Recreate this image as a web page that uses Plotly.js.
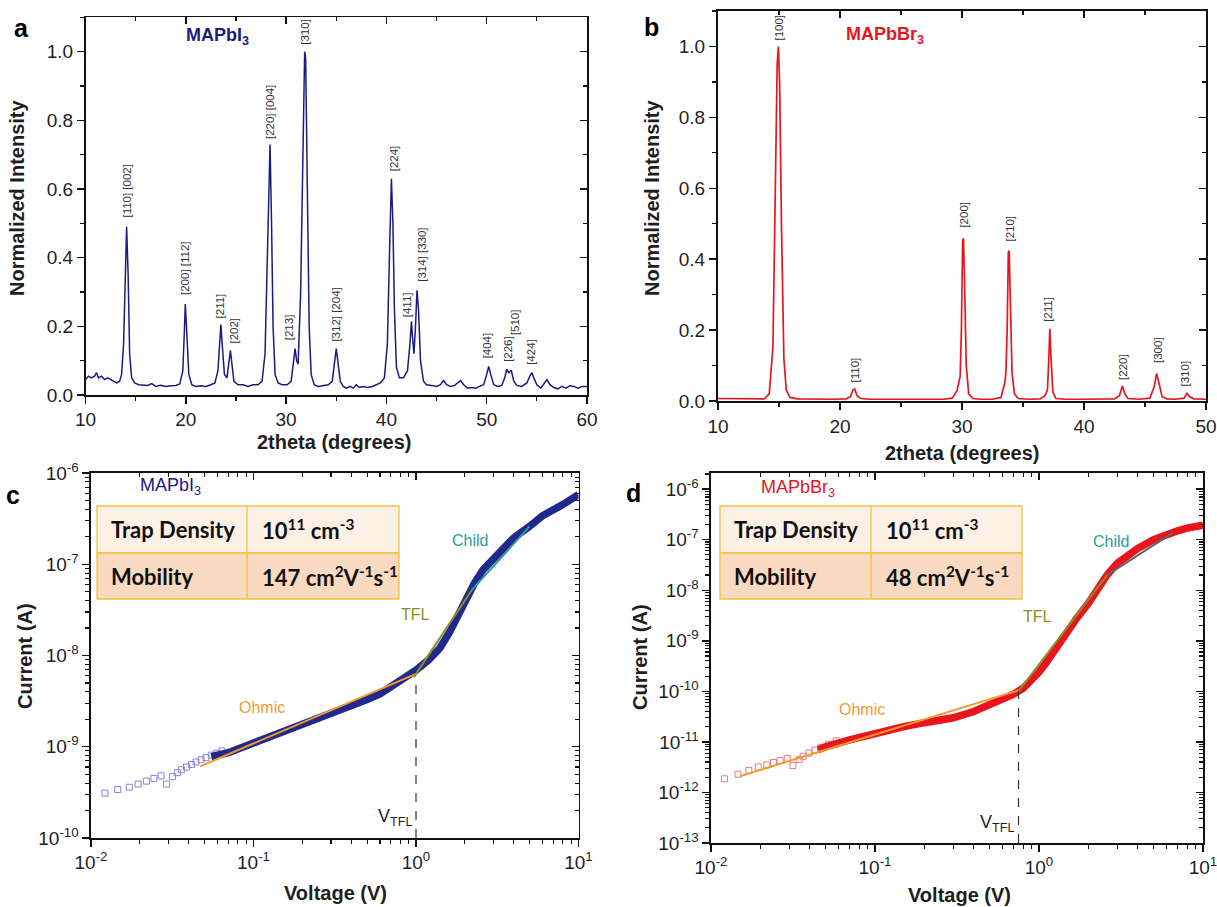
<!DOCTYPE html>
<html>
<head>
<meta charset="utf-8">
<script src="https://cdn.plot.ly/plotly-3.0.1.min.js"></script>
<style>
  html, body { margin: 0; padding: 0; background: #ffffff; }
  #chart { width: 1217px; height: 907px; }
</style>
</head>
<body>
<div id="chart"></div>
<script>
// ---------------- XRD: MAPbI3 ----------------
const iodideTheta = [10.0,10.3,10.6,10.9,11.1,11.3,11.6,11.9,12.2,12.5,12.8,13.1,13.4,13.6,13.8,13.95,14.1,14.25,14.4,14.6,14.9,15.3,15.7,16.2,16.6,17.0,17.5,18.0,18.5,19.0,19.4,19.7,19.85,19.95,20.1,20.3,20.6,21.0,21.5,22.0,22.5,22.9,23.2,23.4,23.5,23.65,23.85,24.1,24.3,24.45,24.6,24.8,25.2,25.7,26.2,26.7,27.2,27.6,27.9,28.1,28.25,28.4,28.55,28.7,28.9,29.2,29.6,30.1,30.5,30.75,30.9,31.05,31.2,31.45,31.7,31.85,31.95,32.1,32.3,32.5,32.8,33.2,33.7,34.2,34.6,34.85,35.0,35.15,35.4,35.7,36.0,36.4,36.7,37.0,37.3,37.7,38.1,38.6,39.0,39.4,39.8,40.1,40.3,40.5,40.65,40.8,41.0,41.3,41.7,42.1,42.35,42.5,42.6,42.75,42.9,43.05,43.2,43.4,43.7,44.0,44.5,45.0,45.4,45.7,46.0,46.4,46.8,47.1,47.4,47.7,48.1,48.5,48.9,49.3,49.7,50.0,50.2,50.4,50.7,51.1,51.5,51.8,52.0,52.2,52.45,52.7,53.0,53.5,54.0,54.3,54.5,54.7,55.0,55.4,55.8,56.0,56.3,56.7,57.1,57.5,57.9,58.3,58.7,59.1,59.5,60.0];
const iodideIntensity = [0.045,0.055,0.050,0.055,0.065,0.050,0.055,0.045,0.050,0.045,0.040,0.035,0.040,0.060,0.150,0.350,0.490,0.350,0.120,0.050,0.035,0.030,0.030,0.028,0.033,0.025,0.028,0.025,0.027,0.028,0.032,0.070,0.180,0.265,0.180,0.060,0.030,0.025,0.027,0.025,0.030,0.035,0.070,0.180,0.205,0.140,0.060,0.050,0.090,0.130,0.090,0.040,0.030,0.030,0.025,0.030,0.030,0.040,0.120,0.350,0.500,0.730,0.500,0.200,0.060,0.035,0.030,0.030,0.040,0.090,0.135,0.100,0.090,0.300,0.800,1.000,0.980,0.600,0.200,0.060,0.030,0.025,0.028,0.030,0.040,0.100,0.135,0.100,0.040,0.025,0.020,0.025,0.020,0.030,0.022,0.025,0.022,0.025,0.030,0.035,0.050,0.150,0.400,0.630,0.500,0.250,0.080,0.050,0.050,0.070,0.150,0.215,0.170,0.120,0.200,0.305,0.250,0.100,0.040,0.030,0.028,0.025,0.030,0.042,0.030,0.025,0.028,0.035,0.042,0.030,0.020,0.022,0.020,0.025,0.030,0.060,0.083,0.060,0.030,0.025,0.028,0.050,0.075,0.065,0.072,0.040,0.028,0.025,0.035,0.055,0.065,0.050,0.030,0.020,0.035,0.045,0.030,0.022,0.018,0.025,0.020,0.027,0.025,0.020,0.025,0.025];
const iodidePeakText = ['[110] [002]','[200] [112]','[211]','[202]','[220] [004]','[213]','[310]','[312] [204]','[224]','[411]','[314] [330]','[404]','[226]','[510]','[424]'];
const iodidePeakTheta = [14.1,19.9,23.45,24.8,28.4,30.3,31.8,34.95,40.7,42.05,43.55,50.0,52.1,52.9,54.35];
const iodidePeakLabelBase = [0.51,0.285,0.217,0.144,0.74,0.154,1.015,0.149,0.647,0.222,0.324,0.100,0.090,0.168,0.083];

// ---------------- XRD: MAPbBr3 ----------------
const bromideTheta = [10,11,12,13,13.8,14.2,14.5,14.7,14.85,14.95,15.05,15.2,15.4,15.6,15.9,16.5,17.5,18.5,19.5,20.5,20.85,21.05,21.2,21.4,21.7,22.5,23.5,24.5,25.5,26.5,27.5,28.5,29.2,29.6,29.85,29.95,30.05,30.12,30.2,30.35,30.55,30.9,31.5,32.5,33.2,33.5,33.6,33.7,33.8,33.87,33.95,34.1,34.3,34.6,35.5,36.4,36.8,37.0,37.12,37.2,37.3,37.45,37.7,38.5,39.5,40.5,41.5,42.5,42.9,43.15,43.35,43.6,44.5,45.4,45.75,45.95,46.15,46.4,46.8,47.5,48.2,48.45,48.65,49.0,50];
const bromideIntensity = [0.007,0.007,0.006,0.006,0.006,0.02,0.15,0.6,0.95,1.0,0.9,0.5,0.12,0.03,0.01,0.006,0.005,0.005,0.005,0.006,0.012,0.03,0.034,0.015,0.007,0.005,0.005,0.005,0.005,0.004,0.004,0.005,0.008,0.03,0.07,0.2,0.45,0.459,0.35,0.1,0.02,0.007,0.005,0.005,0.01,0.05,0.08,0.2,0.42,0.424,0.3,0.08,0.02,0.007,0.005,0.006,0.015,0.03,0.12,0.204,0.12,0.025,0.007,0.005,0.005,0.005,0.005,0.006,0.015,0.042,0.02,0.007,0.005,0.008,0.04,0.078,0.05,0.012,0.006,0.005,0.008,0.022,0.012,0.006,0.005];
const bromidePeakText = ['[100]','[110]','[200]','[210]','[211]','[220]','[300]','[310]'];
const bromidePeakTheta = [15.0,21.2,30.15,33.9,37.1,43.2,46.05,48.3];
const bromidePeakLabelBase = [1.011,0.047,0.483,0.443,0.218,0.054,0.101,0.036];

// ---------------- I-V: MAPbI3 ----------------
const iodideSparseV = [0.0122,0.0146,0.0172,0.0195,0.0219,0.0244,0.027,0.0292,0.0317,0.034,0.036,0.0387,0.0416,0.0443,0.0476,0.051,0.055,0.0595,0.064];
const iodideSparseI = [3.1e-10,3.4e-10,3.6e-10,3.9e-10,4.2e-10,4.5e-10,4.8e-10,3.9e-10,4.7e-10,5.2e-10,5.6e-10,6.0e-10,6.4e-10,6.8e-10,7.2e-10,7.6e-10,8.1e-10,8.5e-10,9.0e-10];
const iodideDenseV = [0.055,0.07,0.1,0.15,0.2,0.3,0.4,0.5,0.6,0.7,0.8,0.9,1.0,1.2,1.4,1.6,1.8,2.0,2.3,2.6,3.0,4.0,5.0,6.0,8.0,10.0];
const iodideDenseI = [7.8e-10,8.6e-10,1.1e-9,1.44e-9,1.74e-9,2.38e-9,2.9e-9,3.3e-9,3.8e-9,4.5e-9,5.2e-9,6.0e-9,6.9e-9,9.0e-9,1.2e-8,1.77e-8,2.7e-8,3.9e-8,6.3e-8,8.8e-8,1.17e-7,1.95e-7,2.6e-7,3.4e-7,4.5e-7,5.8e-7];
const iodideOhmicV = [0.047,1.0], iodideOhmicI = [6.1e-10,6.3e-9];
const iodideTflV = [0.97,2.25], iodideTflI = [5.8e-9,5.5e-8];
const iodideChildV = [2.2,5.0], iodideChildI = [5.2e-8,2.6e-7];
const iodideVtfl = 1.0, iodideVtflI = 6.0e-9;

// ---------------- I-V: MAPbBr3 ----------------
const bromideSparseV = [0.0121,0.0146,0.017,0.0194,0.0219,0.024,0.0264,0.0292,0.0316,0.0345,0.0365,0.0396,0.043,0.0467,0.052,0.058];
const bromideSparseI = [1.86e-12,2.3e-12,2.73e-12,3.2e-12,3.5e-12,3.9e-12,4.3e-12,4.7e-12,3.4e-12,4.5e-12,5.2e-12,6.0e-12,6.9e-12,7.8e-12,9.0e-12,1.05e-11];
const bromideDenseV = [0.045,0.05,0.07,0.1,0.15,0.2,0.3,0.4,0.5,0.6,0.7,0.8,0.9,1.0,1.1,1.2,1.35,1.5,1.7,2.0,2.3,2.6,3.0,3.5,4.0,5.0,6.0,7.0,8.0,10.0];
const bromideDenseI = [7.0e-12,8e-12,1.1e-11,1.5e-11,2.0e-11,2.4e-11,3.0e-11,4.0e-11,5.3e-11,6.8e-11,8.8e-11,1.15e-10,1.6e-10,2.4e-10,3.6e-10,5.5e-10,9.5e-10,1.6e-9,2.8e-9,5.5e-9,1.1e-8,2.0e-8,3.4e-8,5.0e-8,6.7e-8,1.0e-7,1.28e-7,1.5e-7,1.7e-7,1.95e-7];
const bromideOhmicV = [0.015,0.75], bromideOhmicI = [2.1e-12,1.05e-10];
const bromideTflV = [0.75,2.6], bromideTflI = [1.0e-10,2.0e-8];
const bromideChildV = [2.6,6.5], bromideChildI = [2.0e-8,1.35e-7];
const bromideVtfl = 0.75, bromideVtflI = 1.0e-10;

// Table contents
const tableRows = ['Trap Density','Mobility'];
const iodideTableValues = ['10<sup>11</sup> cm<sup>-3</sup>','147 cm<sup>2</sup>V<sup>-1</sup>s<sup>-1</sup>'];
const bromideTableValues = ['10<sup>11</sup> cm<sup>-3</sup>','48 cm<sup>2</sup>V<sup>-1</sup>s<sup>-1</sup>'];

// ---------------- styling ----------------
const W = 1217, H = 907;
const fx = v => v / W;          // pixel -> paper x
const fy = v => 1 - v / H;      // pixel -> paper y
const NAVY = '#1b1b7d', RED = '#e8141e';
const OHMIC = '#f39a2b', TFL = '#8d8d25', CHILD = '#2a9d9d';
const SANS = 'Liberation Sans';
const TEXT = '#1e1e1e';

// plot frames in pixels
const frameA = {l: 85.5, r: 587, t: 17.4, b: 395};
const frameB = {l: 718, r: 1206, t: 11, b: 401};
const frameC = {l: 91, r: 578.5, t: 473, b: 838};
const frameD = {l: 711, r: 1203, t: 473, b: 843};
const dom = f => ({x: [fx(f.l), fx(f.r)], y: [fy(f.b), fy(f.t)]});

const minorLog = [];
for (let e = -14; e <= 1; e++) for (let k = 2; k <= 9; k++) minorLog.push(k * Math.pow(10, e));
const decades = (a, b) => { const v = [], t = []; for (let e = a; e <= b; e++) { v.push(Math.pow(10, e)); t.push('10<sup>' + e + '</sup>'); } return {v, t}; };

function mainAxis(extra) {
  return Object.assign({
    showline: true, linecolor: '#111', linewidth: 1.6, mirror: true,
    ticks: 'outside', ticklen: 7, tickwidth: 1.4, tickcolor: '#111',
    showgrid: false, zeroline: false, fixedrange: true,
    ticklabeloverflow: 'allow',
    tickfont: {family: SANS, size: 19, color: TEXT}
  }, extra);
}
function twinAxis(extra) {
  return Object.assign({
    showline: false, ticks: 'inside', ticklen: 7, tickwidth: 1.4, tickcolor: '#111',
    showticklabels: false, showgrid: false, zeroline: false, fixedrange: true
  }, extra);
}
const minorLin = d => ({ticks: 'outside', ticklen: 4, tickwidth: 1.2, tickcolor: '#111', dtick: d});
const minorLinIn = d => ({ticks: 'inside', ticklen: 4, tickwidth: 1.2, tickcolor: '#111', dtick: d});
const minorLogOut = {ticks: 'outside', ticklen: 4, tickwidth: 1.1, tickcolor: '#111', tickmode: 'array', tickvals: minorLog};
const minorLogIn = {ticks: 'inside', ticklen: 4, tickwidth: 1.1, tickcolor: '#111', tickmode: 'array', tickvals: minorLog};

const xDec = decades(-2, 1), yDecC = decades(-10, -6), yDecD = decades(-13, -6);

const dA = dom(frameA), dB = dom(frameB), dC = dom(frameC), dD = dom(frameD);

const layout = {
  width: W, height: H, autosize: false,
  margin: {l: 0, r: 0, t: 0, b: 0},
  paper_bgcolor: '#ffffff', plot_bgcolor: 'rgba(0,0,0,0)',
  showlegend: false,
  font: {family: SANS, color: TEXT},
  // panel a
  xaxis: mainAxis({domain: dA.x, anchor: 'y', range: [10, 60], tick0: 0, dtick: 10, minor: minorLin(5)}),
  yaxis: mainAxis({domain: dA.y, anchor: 'x', range: [0, 1.1], tick0: 0, dtick: 0.2, tickformat: '.1f', minor: minorLin(0.1)}),
  // panel b
  xaxis2: mainAxis({domain: dB.x, anchor: 'y2', range: [10, 50], tick0: 0, dtick: 10, minor: minorLin(5), linewidth: 2}),
  yaxis2: mainAxis({domain: dB.y, anchor: 'x2', range: [0, 1.1], tick0: 0, dtick: 0.2, tickformat: '.1f', minor: minorLin(0.1), linewidth: 2}),
  // panel c
  xaxis3: mainAxis({domain: dC.x, anchor: 'y3', type: 'log', range: [-2, 1], tickmode: 'array', tickvals: xDec.v, ticktext: xDec.t, minor: minorLogOut}),
  yaxis3: mainAxis({domain: dC.y, anchor: 'x3', type: 'log', range: [-10, -6], tickmode: 'array', tickvals: yDecC.v, ticktext: yDecC.t, minor: minorLogOut}),
  // panel d
  xaxis4: mainAxis({domain: dD.x, anchor: 'y4', type: 'log', range: [-2, 1], tickmode: 'array', tickvals: xDec.v, ticktext: xDec.t, minor: minorLogOut}),
  yaxis4: mainAxis({domain: dD.y, anchor: 'x4', type: 'log', range: [-13, -5.68], tickmode: 'array', tickvals: yDecD.v, ticktext: yDecD.t, minor: minorLogOut}),
  // inward ticks on the top and right edges
  xaxis5: twinAxis({overlaying: 'x', anchor: 'y5', side: 'top', range: [10, 60], tick0: 0, dtick: 10, minor: minorLinIn(5)}),
  yaxis5: twinAxis({overlaying: 'y', anchor: 'x5', side: 'right', range: [0, 1.1], tick0: 0, dtick: 0.2, minor: minorLinIn(0.1)}),
  xaxis6: twinAxis({overlaying: 'x2', anchor: 'y6', side: 'top', range: [10, 50], tick0: 0, dtick: 10, minor: minorLinIn(5)}),
  yaxis6: twinAxis({overlaying: 'y2', anchor: 'x6', side: 'right', range: [0, 1.1], tick0: 0, dtick: 0.2, minor: minorLinIn(0.1)}),
  xaxis7: twinAxis({overlaying: 'x3', anchor: 'y7', side: 'top', type: 'log', range: [-2, 1], tickmode: 'array', tickvals: xDec.v, minor: minorLogIn}),
  yaxis7: twinAxis({overlaying: 'y3', anchor: 'x7', side: 'right', type: 'log', range: [-10, -6], tickmode: 'array', tickvals: yDecC.v, minor: minorLogIn}),
  xaxis8: twinAxis({overlaying: 'x4', anchor: 'y8', side: 'top', type: 'log', range: [-2, 1], tickmode: 'array', tickvals: xDec.v, minor: minorLogIn}),
  yaxis8: twinAxis({overlaying: 'y4', anchor: 'x8', side: 'right', type: 'log', range: [-13, -5.68], tickmode: 'array', tickvals: yDecD.v, minor: minorLogIn}),
  shapes: [],
  annotations: []
};

const traces = [];
const line = (x, y, xa, ya, color, width, dash) => ({
  type: 'scatter', mode: 'lines', x, y, xaxis: xa, yaxis: ya,
  line: {color, width, dash: dash || 'solid'}, hoverinfo: 'skip'
});

// XRD patterns
traces.push(line(iodideTheta, iodideIntensity, 'x', 'y', NAVY, 1.5));
traces.push(line(bromideTheta, bromideIntensity, 'x2', 'y2', RED, 1.7));

// I-V curves: sparse points as open squares, dense region as a heavy band
traces.push({type: 'scatter', mode: 'markers', x: iodideSparseV, y: iodideSparseI, xaxis: 'x3', yaxis: 'y3',
  marker: {symbol: 'square-open', size: 6, color: '#8585d4', line: {width: 1}}, hoverinfo: 'skip'});
traces.push(line(iodideDenseV, iodideDenseI, 'x3', 'y3', '#1f2a8c', 7.5));
traces.push(line(iodideOhmicV, iodideOhmicI, 'x3', 'y3', OHMIC, 2));
traces.push(line(iodideTflV, iodideTflI, 'x3', 'y3', TFL, 2));
traces.push(line(iodideChildV, iodideChildI, 'x3', 'y3', CHILD, 2));
traces.push(line([iodideVtfl, iodideVtfl], [1e-10, iodideVtflI], 'x3', 'y3', '#333', 1.2, 'dash'));

traces.push({type: 'scatter', mode: 'markers', x: bromideSparseV, y: bromideSparseI, xaxis: 'x4', yaxis: 'y4',
  marker: {symbol: 'square-open', size: 6, color: '#ea7a7e', line: {width: 1}}, hoverinfo: 'skip'});
traces.push(line(bromideDenseV, bromideDenseI, 'x4', 'y4', RED, 7.5));
traces.push(line(bromideOhmicV, bromideOhmicI, 'x4', 'y4', OHMIC, 2));
traces.push(line(bromideTflV, bromideTflI, 'x4', 'y4', TFL, 2));
traces.push(line(bromideChildV, bromideChildI, 'x4', 'y4', '#5a6a6a', 2));
traces.push(line([bromideVtfl, bromideVtfl], [1e-13, bromideVtflI], 'x4', 'y4', '#333', 1.2, 'dash'));

// empty traces so the inward-tick twin axes get drawn
[['x5','y5'],['x6','y6'],['x7','y7'],['x8','y8']].forEach(([xa, ya]) =>
  traces.push({type: 'scatter', mode: 'markers', x: [], y: [], xaxis: xa, yaxis: ya, hoverinfo: 'skip'}));

const ann = layout.annotations;
const paperText = (text, x, y, opts) => ann.push(Object.assign({
  text, xref: 'paper', yref: 'paper', x: fx(x), y: fy(y), showarrow: false,
  xanchor: 'center', yanchor: 'middle', font: {family: SANS, size: 20, color: TEXT}
}, opts || {}));

// peak indices
const peakFont = {family: SANS, size: 11.5, color: '#333'};
iodidePeakText.forEach((t, i) => ann.push({text: t, x: iodidePeakTheta[i], y: iodidePeakLabelBase[i], xref: 'x', yref: 'y',
  textangle: -90, xanchor: 'center', yanchor: 'bottom', showarrow: false, font: peakFont}));
bromidePeakText.forEach((t, i) => ann.push({text: t, x: bromidePeakTheta[i], y: bromidePeakLabelBase[i], xref: 'x2', yref: 'y2',
  textangle: -90, xanchor: 'center', yanchor: 'bottom', showarrow: false, font: peakFont}));

// panel letters
const bold = s => '<b>' + s + '</b>';
const letterFont = {family: SANS, size: 25, color: '#000'};
paperText(bold('a'), 21, 28, {font: letterFont});
paperText(bold('b'), 651, 27, {font: letterFont});
paperText(bold('c'), 13, 495, {font: letterFont});
paperText(bold('d'), 633, 493, {font: letterFont});

// axis titles
paperText(bold('2theta (degrees)'), 334, 442);
paperText(bold('Normalized Intensity'), 17, 198, {textangle: -90});
paperText(bold('2theta (degrees)'), 962, 453);
paperText(bold('Normalized Intensity'), 652, 198, {textangle: -90});
paperText(bold('Voltage (V)'), 335, 893);
paperText(bold('Current (A)'), 25, 656, {textangle: -90});
paperText(bold('Voltage (V)'), 959, 895);
paperText(bold('Current (A)'), 640, 657, {textangle: -90});

// sample names
ann.push({text: bold('MAPbI<sub>3</sub>'), x: 23.2, y: 1.045, xref: 'x', yref: 'y', showarrow: false,
  font: {family: SANS, size: 18, color: NAVY}});
ann.push({text: bold('MAPbBr<sub>3</sub>'), x: 23.7, y: 1.03, xref: 'x2', yref: 'y2', showarrow: false,
  font: {family: SANS, size: 18, color: RED}});
const logText = (text, v, i, xa, ya, color, opts) => ann.push(Object.assign({
  text, x: Math.log10(v), y: Math.log10(i), xref: xa, yref: ya, showarrow: false,
  font: {family: SANS, size: 16, color}
}, opts || {}));
logText('MAPbI<sub>3</sub>', 0.031, 7.1e-7, 'x3', 'y3', NAVY, {font: {family: SANS, size: 18, color: NAVY}});
logText('MAPbBr<sub>3</sub>', 0.034, 1.05e-6, 'x4', 'y4', RED, {font: {family: SANS, size: 18, color: RED}});
logText('Ohmic', 0.113, 2.7e-9, 'x3', 'y3', OHMIC);
logText('TFL', 0.99, 2.8e-8, 'x3', 'y3', TFL);
logText('Child', 2.15, 1.8e-7, 'x3', 'y3', CHILD);
logText('Ohmic', 0.083, 4.3e-11, 'x4', 'y4', OHMIC);
logText('TFL', 0.98, 3.0e-9, 'x4', 'y4', TFL);
logText('Child', 2.75, 9.3e-8, 'x4', 'y4', CHILD);
logText('V<sub>TFL</sub>', iodideVtfl * 0.97, 1.2e-10, 'x3', 'y3', TEXT, {xanchor: 'right', yanchor: 'bottom', font: {family: SANS, size: 18, color: TEXT}});
logText('V<sub>TFL</sub>', bromideVtfl * 0.97, 1.3e-13, 'x4', 'y4', TEXT, {xanchor: 'right', yanchor: 'bottom', font: {family: SANS, size: 18, color: TEXT}});

// parameter tables
function table(l, mid, r, t, m, b, values) {
  const border = {color: '#f2c23e', width: 1.3};
  layout.shapes.push({type: 'rect', xref: 'paper', yref: 'paper', x0: fx(l), x1: fx(r), y0: fy(m), y1: fy(t), fillcolor: '#fdf0e5', line: border, layer: 'above'});
  layout.shapes.push({type: 'rect', xref: 'paper', yref: 'paper', x0: fx(l), x1: fx(r), y0: fy(b), y1: fy(m), fillcolor: '#f9d9bf', line: border, layer: 'above'});
  layout.shapes.push({type: 'line', xref: 'paper', yref: 'paper', x0: fx(mid), x1: fx(mid), y0: fy(b), y1: fy(t), line: border, layer: 'above'});
  const font = {family: 'Lato', size: 22, color: '#111'};
  [(t + m) / 2, (m + b) / 2].forEach((yc, k) => {
    paperText(bold(tableRows[k]), l + 12, yc, {xanchor: 'left', font});
    paperText(bold(values[k]), mid + 13, yc, {xanchor: 'left', font});
  });
}
table(97, 247, 399, 506, 553, 599, iodideTableValues);
table(720, 871, 1022, 506, 553, 599, bromideTableValues);

Plotly.newPlot('chart', traces, layout, {staticPlot: true, displayModeBar: false});
</script>
</body>
</html>
